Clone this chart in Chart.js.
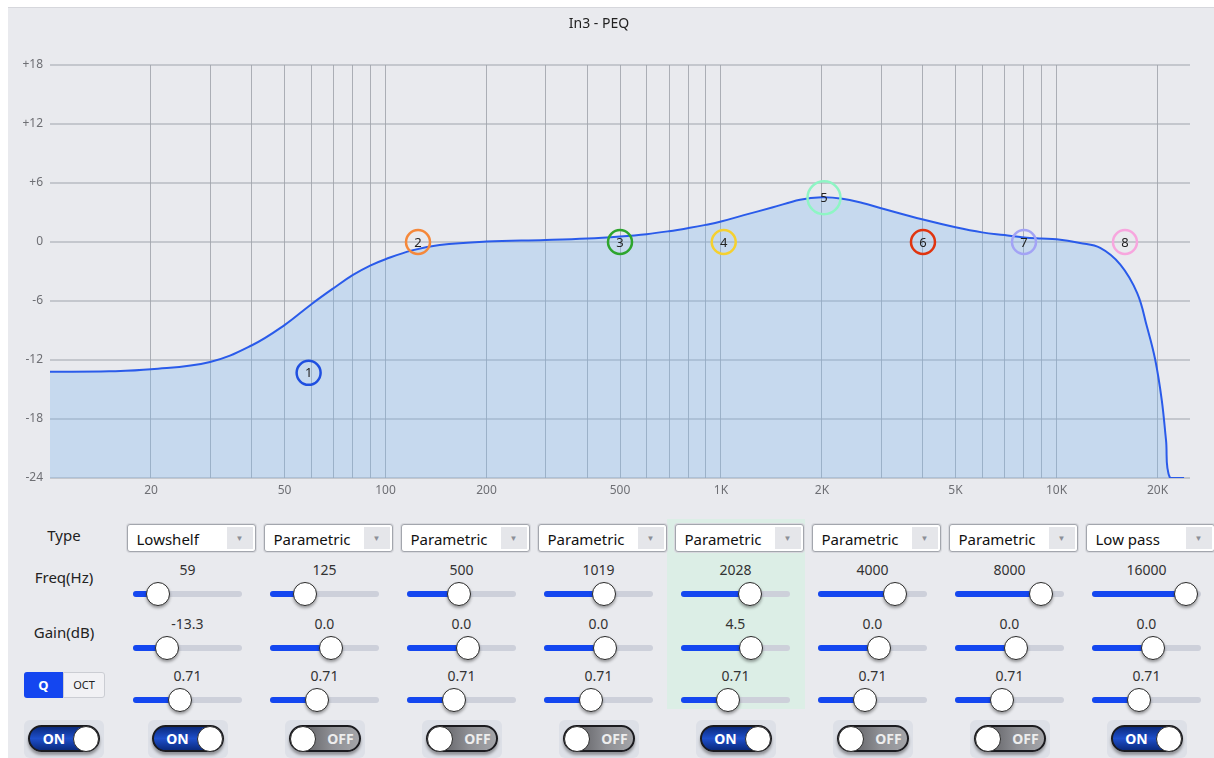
<!DOCTYPE html>
<html>
<head>
<meta charset="utf-8">
<script src="https://cdn.jsdelivr.net/npm/chart.js@4.4.1/dist/chart.umd.min.js"></script>
<style>
  body { margin: 0; background: #fff; font-family: "Noto Sans", "Open Sans", sans-serif; color: #222; }
  #panel { position: absolute; left: 8px; top: 7px; width: 1206px; height: 751px; background: #E9EAEE; border-top: 1px solid #D6D7DC; }
  #peq { position: absolute; left: 8px; top: 7px; }
  .abs { position: absolute; box-sizing: border-box; }
  .rowlbl { font-size: 15px; text-align: center; line-height: 20px; color: #222; }
  .val { font-size: 14px; text-align: center; line-height: 18px; color: #333; }
  .dd { background: #fff; border: 1px solid #A3A6AD; border-radius: 3px; box-shadow: 0 0 0 1px #D8D9DE; font-size: 15px; line-height: 28px; padding-left: 9px; color: #111; }
  .dd .arr { position: absolute; right: 2px; top: 2px; width: 26px; height: 22px; background: #E5E6EA; color: #8C8F97; font-size: 8px; line-height: 22px; text-align: center; }
  .track { background: #CDD0DA; border-radius: 3px; }
  .fill { background: #1447F0; border-radius: 3px; }
  .thumb { background: #fff; border: 1.5px solid #2A2A2A; border-radius: 50%; box-shadow: 0 2px 3px rgba(0,0,0,0.35); }
  .swbg { background: #DDE0E7; border-radius: 6px; }
  .sw { border-radius: 14px; border: 2px solid #1B1B1F; box-shadow: 0 3px 3px rgba(0,0,0,0.35); font-size: 14px; font-weight: bold; line-height: 23px; color: #fff; }
  .sw.on { background: linear-gradient(180deg, #0A2A7E 0%, #1E4FCB 50%, #0A2A7E 100%); }
  .sw.off { background: linear-gradient(90deg, #4E4E52 0%, #8E8F94 60%, #A3A4A8 100%); color: #EDEDED; }
  .knob { background: #fff; border: 1.5px solid #2A2A2A; border-radius: 50%; }
</style>
</head>
<body>
<div id="panel"></div>
<canvas id="peq" width="1206" height="505"></canvas>
<script>
// response curve (Hz, dB)
const curveFreqs = [10, 15, 20, 30, 40, 50, 60, 70, 80, 90, 100, 120, 145, 200, 300, 400, 500, 600, 700, 800, 900, 1000,
  1170, 1420, 1720, 2000, 2300, 2640, 3000, 4000, 5000, 6000, 7000, 8000, 9000, 10000, 11750, 13500, 15500, 17400,
  18600, 19700, 20600, 21200, 21800, 24000];
const curveGains = [-13.2, -13.15, -12.95, -12.2, -10.5, -8.45, -6.35, -4.7, -3.35, -2.4, -1.75, -0.85, -0.3, 0.05, 0.2, 0.35, 0.56, 0.8, 1.1, 1.42, 1.74, 2.08,
  2.73, 3.5, 4.3, 4.55, 4.4, 3.96, 3.43, 2.28, 1.5, 0.98, 0.7, 0.46, 0.35, 0.28, -0.1, -0.6, -2.3, -5.2,
  -8.6, -12.0, -16.1, -20.1, -24, -24];

// filter bands
const bandTypes = ['Lowshelf', 'Parametric', 'Parametric', 'Parametric', 'Parametric', 'Parametric', 'Parametric', 'Low pass'];
const bandFreqs = [59, 125, 500, 1019, 2028, 4000, 8000, 16000];
const bandGains = [-13.3, 0, 0, 0, 4.5, 0, 0, 0];
const bandQs = [0.71, 0.71, 0.71, 0.71, 0.71, 0.71, 0.71, 0.71];
const bandOn = [true, false, false, false, true, false, false, true];
const masterOn = true;
const selectedBand = 4;
const markerColors = ['#1F4FE0', '#F5883A', '#2DA52D', '#F5D030', '#8EF5C4', '#E0340F', '#A3A3F5', '#F7A6DE'];

// axes
const gridFreqs = [20, 30, 40, 50, 60, 70, 80, 90, 100, 200, 300, 400, 500, 600, 700, 800, 900,
  1000, 2000, 3000, 4000, 5000, 6000, 7000, 8000, 9000, 10000, 20000];
const xTickValues = [20, 50, 100, 200, 500, 1000, 2000, 5000, 10000, 20000];
const xTickLabels = ['20', '50', '100', '200', '500', '1K', '2K', '5K', '10K', '20K'];
const yTickValues = [-24, -18, -12, -6, 0, 6, 12, 18];
const yTickLabels = ['-24', '-18', '-12', '-6', '0', '+6', '+12', '+18'];

Chart.defaults.font.family = '"Noto Sans", "Open Sans", sans-serif';

const markerNumbers = {
  id: 'markerNumbers',
  afterDatasetsDraw(chart) {
    const meta = chart.getDatasetMeta(1);
    const ctx = chart.ctx;
    ctx.save();
    ctx.font = '13px "Noto Sans", sans-serif';
    ctx.fillStyle = '#222';
    ctx.textAlign = 'center';
    ctx.textBaseline = 'middle';
    meta.data.forEach((pt, i) => ctx.fillText(String(i + 1), pt.x, pt.y + 1));
    ctx.restore();
  }
};

new Chart(document.getElementById('peq'), {
  type: 'line',
  data: {
    datasets: [{
      data: curveFreqs.map((f, i) => ({ x: f, y: curveGains[i] })),
      borderColor: '#2A5BEA',
      borderWidth: 2,
      backgroundColor: 'rgba(120,180,240,0.31)',
      fill: 'start',
      pointRadius: 0,
      tension: 0.4,
      order: 1
    }, {
      data: bandFreqs.map((f, i) => ({ x: f, y: bandGains[i] })),
      showLine: false,
      pointRadius: bandFreqs.map((f, i) => i === selectedBand ? 16.5 : 12),
      pointBorderWidth: 2.5,
      pointBackgroundColor: 'rgba(0,0,0,0)',
      pointBorderColor: markerColors,
      order: 0
    }]
  },
  options: {
    responsive: false,
    animation: false,
    layout: { padding: { left: 0, right: 24, top: 0, bottom: 0 } },
    scales: {
      x: {
        type: 'logarithmic',
        min: 10,
        max: 25000,
        afterBuildTicks: (scale) => { scale.ticks = gridFreqs.map(v => ({ value: v })); },
        afterFit: (scale) => { scale.height = 34; },
        ticks: {
          autoSkip: false,
          maxRotation: 0,
          padding: 5,
          color: '#6E6F74',
          font: { size: 12 },
          callback: (value) => {
            const k = xTickValues.indexOf(value);
            return k >= 0 ? xTickLabels[k] : '';
          }
        },
        grid: { color: 'rgba(120,124,134,0.55)', lineWidth: 1, drawTicks: false },
        border: { display: false }
      },
      y: {
        min: -24,
        max: 18,
        afterBuildTicks: (scale) => { scale.ticks = yTickValues.map(v => ({ value: v })); },
        afterFit: (scale) => { scale.width = 42; },
        ticks: {
          padding: 7,
          color: '#6E6F74',
          font: { size: 12 },
          callback: (value) => yTickLabels[yTickValues.indexOf(value)]
        },
        grid: { color: 'rgba(160,163,172,0.5)', lineWidth: 2, drawTicks: false },
        border: { display: false }
      }
    },
    plugins: {
      legend: { display: false },
      tooltip: { enabled: false },
      title: {
        display: true,
        text: 'In3 - PEQ',
        color: '#222',
        font: { size: 14, weight: 'normal' },
        padding: { top: 8.6, bottom: 32.6 }
      }
    }
  },
  plugins: [markerNumbers]
});

// ---- controls below the chart ----
function box(cls, x, y, w, h, text) {
  const d = document.createElement('div');
  d.className = 'abs ' + cls;
  d.style.left = x + 'px';
  d.style.top = y + 'px';
  if (w != null) d.style.width = w + 'px';
  if (h != null) d.style.height = h + 'px';
  if (text != null) d.textContent = text;
  document.body.appendChild(d);
  return d;
}

function slider(trackLeft, cy, frac) {
  box('track', trackLeft, cy - 3, 109, 6);
  box('fill', trackLeft, cy - 3, 12 + frac * 85, 6);
  box('thumb', trackLeft + frac * 85, cy - 12, 24, 24);
}

function toggle(cx, on) {
  box('swbg', cx - 40, 720, 80, 38);
  const p = box('sw ' + (on ? 'on' : 'off'), cx - 36, 725, 72, 27);
  const t = document.createElement('div');
  t.className = 'abs';
  t.style.top = '0px';
  t.style.left = on ? '8px' : '32px';
  t.style.width = on ? '32px' : '36px';
  t.style.textAlign = 'center';
  t.textContent = on ? 'ON' : 'OFF';
  p.appendChild(t);
  box('knob', on ? cx + 9 : cx - 35, 726, 26, 26);
}

box('', 667, 519, 138, 190).style.background = '#DCEEE6';

box('rowlbl', 14, 525, 100, 20, 'Type');
box('rowlbl', 14, 567, 100, 20, 'Freq(Hz)');
box('rowlbl', 14, 622, 100, 20, 'Gain(dB)');

const q = box('', 24, 672, 39, 26, 'Q');
q.style.cssText += 'background:#1446F0;color:#fff;font-weight:bold;font-size:13px;line-height:26px;text-align:center;border-radius:3px 0 0 3px;';
const oct = box('', 63, 672, 42, 26, 'OCT');
oct.style.cssText += 'background:#F1F1F4;border:1px solid #CBCDD3;color:#222;font-size:11px;line-height:24px;text-align:center;border-radius:0 3px 3px 0;';

toggle(64, masterOn);

bandTypes.forEach((type, i) => {
  const L = 126.5 + 137 * i;
  const cx = L + 61;
  const dd = box('dd', L, 524, 129, 28, type);
  const arr = document.createElement('div');
  arr.className = 'arr';
  arr.textContent = '\u25BC';
  dd.appendChild(arr);

  box('val', cx - 40, 561, 80, 18, String(bandFreqs[i]));
  slider(L + 6.5, 594, Math.log10(bandFreqs[i] / 20) / 3);
  box('val', cx - 40, 615, 80, 18, bandGains[i].toFixed(1));
  slider(L + 6.5, 648, (bandGains[i] + 24) / 42);
  box('val', cx - 40, 667, 80, 18, bandQs[i].toFixed(2));
  slider(L + 6.5, 700, (bandQs[i] - 0.2) / 1.25);
  toggle(cx, bandOn[i]);
});
</script>
</body>
</html>
